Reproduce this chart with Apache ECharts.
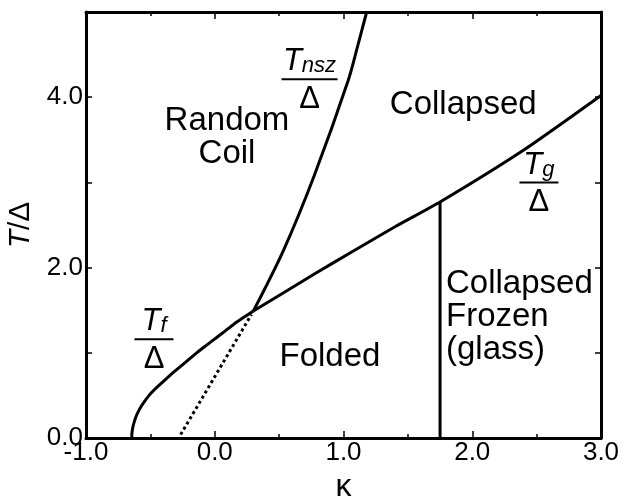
<!DOCTYPE html>
<html>
<head>
<meta charset="utf-8">
<script src="https://cdn.jsdelivr.net/npm/echarts@6/dist/echarts.min.js"></script>
<style>html,body{margin:0;padding:0;background:#fff;}#c{width:630px;height:501px;}</style>
</head>
<body>
<div id="c"></div>
<script>
// ---- data (kappa, T/Delta) ----
var tfCurve = [[-0.645,0],[-0.643,0.06],[-0.637,0.12],[-0.627,0.18],[-0.612,0.25],[-0.594,0.31],[-0.572,0.37],[-0.545,0.43],[-0.51,0.50],[-0.47,0.565],[-0.42,0.635],[-0.373,0.70],[-0.31,0.785],[-0.244,0.868],[-0.18,0.95],[-0.115,1.03],[-0.05,1.105],[0.015,1.18],[0.08,1.255],[0.143,1.33],[0.22,1.41],[0.30,1.49]];
var tgCurve = [[0.30,1.49],[0.78,1.93],[1.06,2.18],[1.40,2.48],[1.75,2.77],[2.40,3.38],[3.0,4.02]];
var tnszCurve = [[0.30,1.49],[0.533,2.20],[0.77,3.07],[1.037,4.20],[1.115,4.63],[1.18,5.0]];
var dottedLine = [[-0.265,0.04],[0.285,1.45]];
var glassLine = [[1.75,0],[1.75,2.77]];
var xTicks = [-1.0, 0.0, 1.0, 2.0, 3.0];
var yTicks = [0.0, 2.0, 4.0];
var regionLabels = [
  {name:'Random\nCoil', pos:[0.095,3.53], align:'center'},
  {name:'Collapsed', pos:[1.93,3.91], align:'center'},
  {name:'Folded', pos:[0.895,0.95], align:'center'},
  {name:'Collapsed\nFrozen\n(glass)', pos:[1.796,1.425], align:'left'}
];
var fractions = [
  {sub:'nsz', pos:[0.736,4.21], w:56},
  {sub:'f', pos:[-0.472,1.16], w:39},
  {sub:'g', pos:[2.518,3.0], w:39}
];

var FONT = '"Liberation Sans", Arial, Helvetica, sans-serif';
var chart = echarts.init(document.getElementById('c'));

function axisCommon(extra){
  var o = {
    type:'value',
    axisLine:{show:true, onZero:false, lineStyle:{color:'#000', width:3}},
    splitLine:{show:false},
    axisTick:{show:true, inside:true, length:6, lineStyle:{color:'#000', width:1.5}},
  };
  for (var k in extra) o[k] = extra[k];
  return o;
}

var series = [];
function lineSeries(data, dash, smooth){
  series.push({type:'line', data:data, xAxisIndex:0, yAxisIndex:0, symbol:'none', smooth:smooth||false,
    lineStyle:{color:'#000', width:3, type: dash ? [3,3] : 'solid', cap:'butt', join:'round'}, z:3, silent:true});
}
lineSeries(tfCurve, false, 0.1);
lineSeries(tgCurve, false, 0.2);
lineSeries(tnszCurve, false, 0.3);
lineSeries(dottedLine, true, false);
lineSeries(glassLine, false, false);

regionLabels.forEach(function(r){
  series.push({type:'scatter', data:[r.pos], symbolSize:0, silent:true, z:5,
    itemStyle:{opacity:1},
    label:{show:true, position:'inside', align:r.align, formatter:r.name, color:'#000', opacity:1,
      fontFamily:FONT, fontSize:33, lineHeight:33}});
});

fractions.forEach(function(f){
  series.push({type:'scatter', data:[f.pos], symbolSize:0, silent:true, z:5,
    itemStyle:{opacity:1},
    label:{show:true, position:'inside', offset:[0,-2], color:'#000', opacity:1, align:'center',
      formatter:'{t|T}{s|' + f.sub + '}\n{bar| }\n{d|Δ}',
      rich:{
        t:{fontFamily:FONT, fontStyle:'italic', fontSize:31, lineHeight:40, verticalAlign:'bottom', color:'#000'},
        s:{fontFamily:FONT, fontStyle:'italic', fontSize:22, lineHeight:22, verticalAlign:'bottom', color:'#000'},
        bar:{width:f.w, height:2, lineHeight:4, backgroundColor:'#000', fontSize:2},
        d:{fontFamily:FONT, fontSize:31, lineHeight:36, color:'#000'}
      }}});
});

chart.setOption({
  animation:false,
  backgroundColor:'#fff',
  grid:{left:86, right:29, top:12, bottom:63, containLabel:false, outerBoundsMode:'none'},
  xAxis:[
    axisCommon({min:-1, max:3, interval:1, position:'bottom',
      minorTick:{show:true, splitNumber:2, length:4, lineStyle:{color:'#000', width:1.5}},
      axisTick:{show:true, inside:true, length:7, lineStyle:{color:'#000', width:1.5}},
      axisLabel:{show:true, margin:2, color:'#000', fontFamily:FONT, fontSize:26,
        formatter:function(v){ return xTicks.indexOf(v) >= 0 ? v.toFixed(1) : ''; }},
      name:'κ', nameLocation:'middle', nameGap:28,
      nameTextStyle:{color:'#000', fontFamily:FONT, fontSize:32}}),
    axisCommon({min:-1, max:3, interval:1, position:'top',
      minorTick:{show:true, splitNumber:2, length:4, lineStyle:{color:'#000', width:1.5}},
      axisTick:{show:true, inside:true, length:7, lineStyle:{color:'#000', width:1.5}},
      axisLabel:{show:false}})
  ],
  yAxis:[
    axisCommon({min:0, max:5, interval:1, position:'left',
      axisLabel:{show:true, margin:3, color:'#000', fontFamily:FONT, fontSize:26, showMaxLabel:false,
        formatter:function(v){ return yTicks.indexOf(v) >= 0 ? v.toFixed(1) : ''; }},
      name:'{i|T}/Δ', nameLocation:'middle', nameGap:47, nameRotate:90,
      nameTextStyle:{color:'#000', fontFamily:FONT, fontSize:30,
        rich:{i:{fontStyle:'italic', fontFamily:FONT, fontSize:30, color:'#000'}}}}),
    axisCommon({min:0, max:5, interval:1, position:'right', axisLabel:{show:false}})
  ],
  series:series
});
</script>
</body>
</html>
